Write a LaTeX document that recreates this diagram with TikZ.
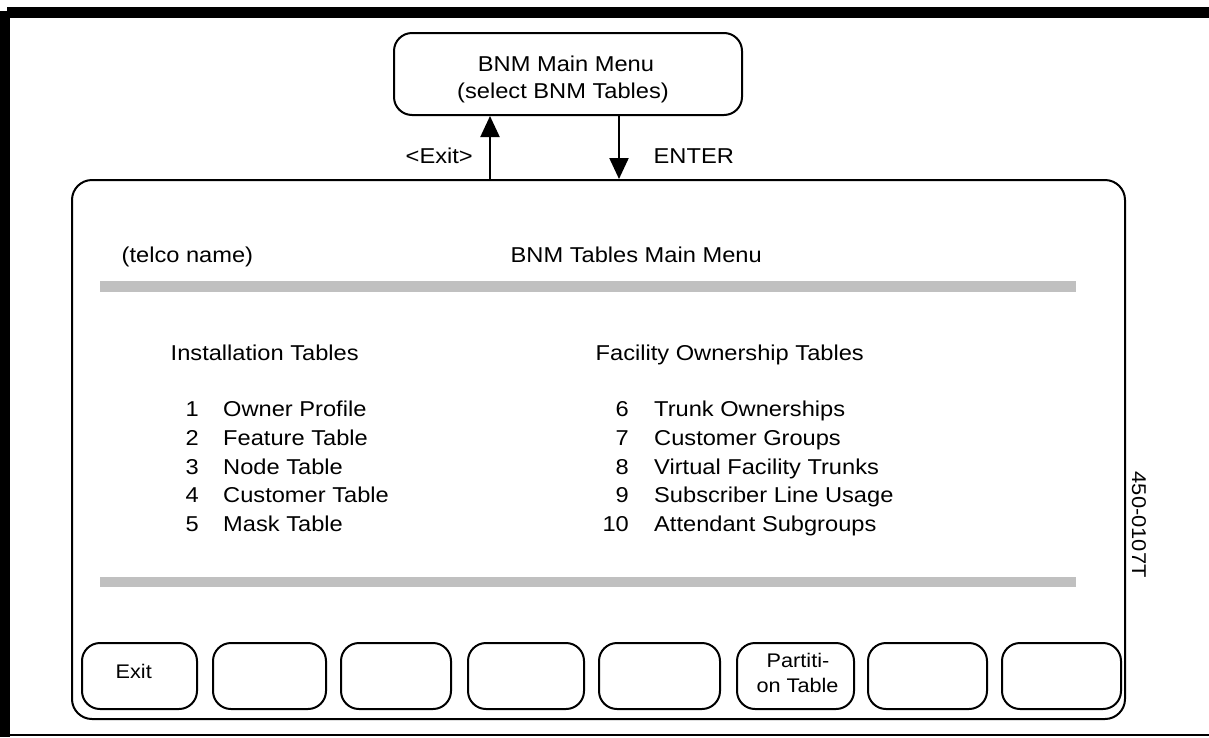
\documentclass[tikz,border=0pt]{standalone}
\usepackage{fontspec}
\setmainfont{Liberation Sans}[FakeStretch=1.1]
\usetikzlibrary{arrows.meta}

% type sizes used on the screen layout
\newcommand{\tblfont}{\fontsize{21.5}{27}\selectfont}
\newcommand{\softfont}{\fontsize{19.7}{25}\selectfont}
\newcommand{\idfont}{\fontsize{19.9}{24}\selectfont}
\definecolor{rulegray}{RGB}{192,192,192}

\begin{document}
\begin{tikzpicture}[x=1pt,y=-1pt,
  box/.style={draw, line width=2pt, rounded corners=18pt, inner sep=0pt},
  key/.style={box, rounded corners=18pt, minimum height=66pt},
  lbl/.style={inner sep=0pt, font=\tblfont},
  softlbl/.style={inner sep=0pt, font=\softfont},
  flow/.style={line width=2.2pt, -{Triangle[length=21pt,width=19pt]}},
  rulebar/.style={fill=rulegray}
]
\useasboundingbox (0,0) rectangle (1209,737);

% outer page frame
\fill (7,7) rectangle (1209,18);
\fill (0,11) rectangle (10,737);
\draw[line width=2pt] (10,735) -- (1209,735);

% BNM main menu box
\node[box, minimum width=348pt, minimum height=82pt] (menu) at (568,74) {};
\node[lbl, anchor=base] (menuA) at (566,71) {BNM Main Menu};
\node[lbl, anchor=base] (menuB) at (563,98) {(select BNM Tables)};

% BNM tables screen
\node[box, rounded corners=20pt, minimum width=1053pt, minimum height=539pt] (screen) at (598.5,449.5) {};

% navigation between the menus
\coordinate (exitx) at (490,0);
\coordinate (enterx) at (619,0);
\draw[flow] (screen.north -| exitx) -- (menu.south -| exitx);
\draw[flow] (menu.south -| enterx) -- (screen.north -| enterx);
\node[lbl, anchor=base west] (exitlbl) at (405.5,163) {<Exit>};
\node[lbl, anchor=base west] (enterlbl) at (653.5,163) {ENTER};

% screen header
\node[lbl, anchor=base west] (telco) at (121.5,262) {(telco name)};
\node[lbl, anchor=base west] (title) at (510.5,262) {BNM Tables Main Menu};
\fill[rulebar] (100,281) rectangle (1076,292);

% table groups
\node[lbl, anchor=base west] (inst) at (170.5,360.7) {Installation Tables};
\node[lbl, anchor=base west] (fac) at (595.5,360.7) {Facility Ownership Tables};

\foreach \n/\t [count=\i from 0] in {1/Owner Profile, 2/Feature Table, 3/Node Table, 4/Customer Table, 5/Mask Table}{
  \node[lbl, anchor=base east] (inum\n) at (199,416.7+28.75*\i) {\n};
  \node[lbl, anchor=base west] (itab\n) at (223,416.7+28.75*\i) {\t};
}
\foreach \n/\t [count=\i from 0] in {6/Trunk Ownerships, 7/Customer Groups, 8/Virtual Facility Trunks, 9/Subscriber Line Usage, 10/Attendant Subgroups}{
  \node[lbl, anchor=base east] (fnum\n) at (629,416.7+28.75*\i) {\n};
  \node[lbl, anchor=base west] (ftab\n) at (654,416.7+28.75*\i) {\t};
}

\fill[rulebar] (100,577) rectangle (1076,587);

% soft keys
\node[key, minimum width=115pt] (k1) at (139.5,676) {};
\node[key, minimum width=113pt] (k2) at (269.5,676) {};
\node[key, minimum width=110pt] (k3) at (396,676) {};
\node[key, minimum width=116pt] (k4) at (526,676) {};
\node[key, minimum width=121pt] (k5) at (659.5,676) {};
\node[key, minimum width=117pt] (k6) at (795.5,676) {};
\node[key, minimum width=119pt] (k7) at (927.5,676) {};
\node[key, minimum width=119pt] (k8) at (1061.5,676) {};
\node[softlbl, anchor=base west] (k1lbl) at (115.5,678) {Exit};
\node[softlbl, anchor=base] (k6lblA) at (798,667) {Partiti-};
\node[softlbl, anchor=base] (k6lblB) at (797.5,692) {on Table};

% drawing number
\node[inner sep=0pt, font=\idfont, rotate=-90, anchor=base west] (docid) at (1132,471.5) {450-0107T};
\end{tikzpicture}
\end{document}
